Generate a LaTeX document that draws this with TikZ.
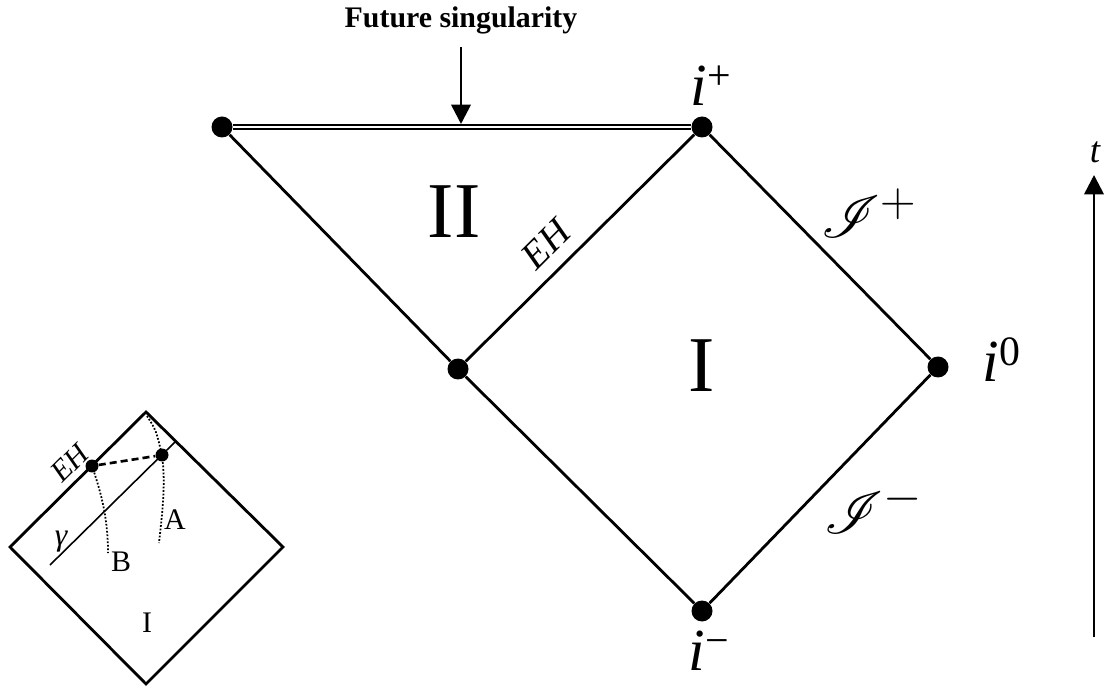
\documentclass[tikz,border=0pt]{standalone}
\usepackage{fontspec}
\setmainfont{Liberation Serif}
\usepackage{mathrsfs}
\usetikzlibrary{arrows.meta}

\begin{document}
\begin{tikzpicture}[
  x=0.02cm, y=-0.02cm,
  bigdot/.style={circle, fill=black, minimum size=0.42cm, inner sep=0pt},
  smalldot/.style={circle, fill=black, minimum size=0.26cm, inner sep=0pt},
  edge/.style={line width=1.6pt},
  dotline/.style={line width=1pt, dash pattern=on 1pt off 1pt},
  tip/.style={-{Triangle[length=11pt, width=11pt]}, line width=1.5pt},
  ptlabel/.style={font=\fontsize{34}{36}\selectfont\itshape, inner sep=0pt},
  region/.style={font=\fontsize{45}{48}\selectfont, inner sep=0pt},
  scri/.style={font=\fontsize{30}{34}\selectfont, inner sep=0pt},
  ehlabel/.style={font=\fontsize{22}{24}\selectfont\itshape, inner sep=0pt, rotate=45},
  insetlabel/.style={font=\fontsize{17}{19}\selectfont, inner sep=0pt},
]
  \useasboundingbox (0,0) rectangle (1104,688);

  % main diagram
  \node[bigdot] (sing) at (222,127) {};
  \node[bigdot] (ip) at (702,127) {};
  \node[bigdot] (mid) at (458,369) {};
  \node[bigdot] (izero) at (938,367) {};
  \node[bigdot] (imin) at (702,611) {};
  \draw[line width=1.3pt, double, double distance=1.3pt] (sing) -- (ip);
  \draw[edge] (sing) -- (mid);
  \draw[edge] (mid) -- (ip);
  \draw[edge] (ip) -- (izero);
  \draw[edge] (izero) -- (imin);
  \draw[edge] (imin) -- (mid);

  \node[font=\fontsize{17}{19}\selectfont\bfseries, inner sep=0pt] (fs) at (461,20) {Future singularity};
  \coordinate (fstip) at (461,124);
  \draw[tip, shorten <=0.26cm] (fs.south) -- (fstip);

  \node[ptlabel] (ipl) at (711,86) {i\textsuperscript{\upshape +}};
  \node[ptlabel] (izl) at (1002,360) {i\textsuperscript{\upshape 0}};
  \node[ptlabel] (iml) at (709,651) {i\textsuperscript{\upshape −}};
  \node[scri] (jp) at (869,213) {\scalebox{1.35}{$\mathscr{I}^{+}$}};
  \node[scri] (jm) at (874,508) {\scalebox{1.35}{$\mathscr{I}^{-}$}};
  \node[region] (rII) at (454,212) {II};
  \node[region] (rI) at (702,366) {I};
  \node[ehlabel] (eh) at (546,244) {EH};

  % time axis
  \coordinate (tbot) at (1094,637);
  \coordinate (ttop) at (1094,175);
  \draw[tip] (tbot) -- (ttop);
  \node[font=\fontsize{21}{23}\selectfont\itshape, inner sep=0pt] (tl) at (1095,152) {t};

  % inset
  \coordinate (itop) at (146,412);
  \coordinate (ileft) at (10,547);
  \coordinate (iright) at (283,547);
  \coordinate (ibot) at (146,684);
  \draw[edge] (itop) -- (iright) -- (ibot) -- (ileft) -- cycle;
  \coordinate (gstart) at (50,565);
  \coordinate (gend) at (175,442);
  \draw[line width=0.9pt] (gstart) -- (gend);
  \node[smalldot] (ieh) at (92,466) {};
  \node[smalldot] (ia) at (162,455) {};
  \draw[line width=1.5pt, dash pattern=on 4pt off 2.3pt] (ieh) -- (ia);
  \coordinate (bend) at (108,553);
  \coordinate (atop) at (147,416);
  \coordinate (aend) at (159,543);
  \draw[dotline] (ieh.center) .. controls (102,495) and (108,520) .. (bend);
  \draw[dotline] (atop) .. controls (156,430) .. (ia.center) .. controls (166,485) and (162,515) .. (aend);
  \node[ehlabel, font=\fontsize{17}{19}\selectfont\itshape] (ehs) at (70,463) {EH};
  \node[insetlabel, font=\fontsize{18}{20}\selectfont\itshape] (gam) at (61,542) {γ};
  \node[insetlabel] (la) at (175,520) {A};
  \node[insetlabel] (lb) at (121,562) {B};
  \node[insetlabel] (lI) at (147,623) {I};
\end{tikzpicture}
\end{document}
